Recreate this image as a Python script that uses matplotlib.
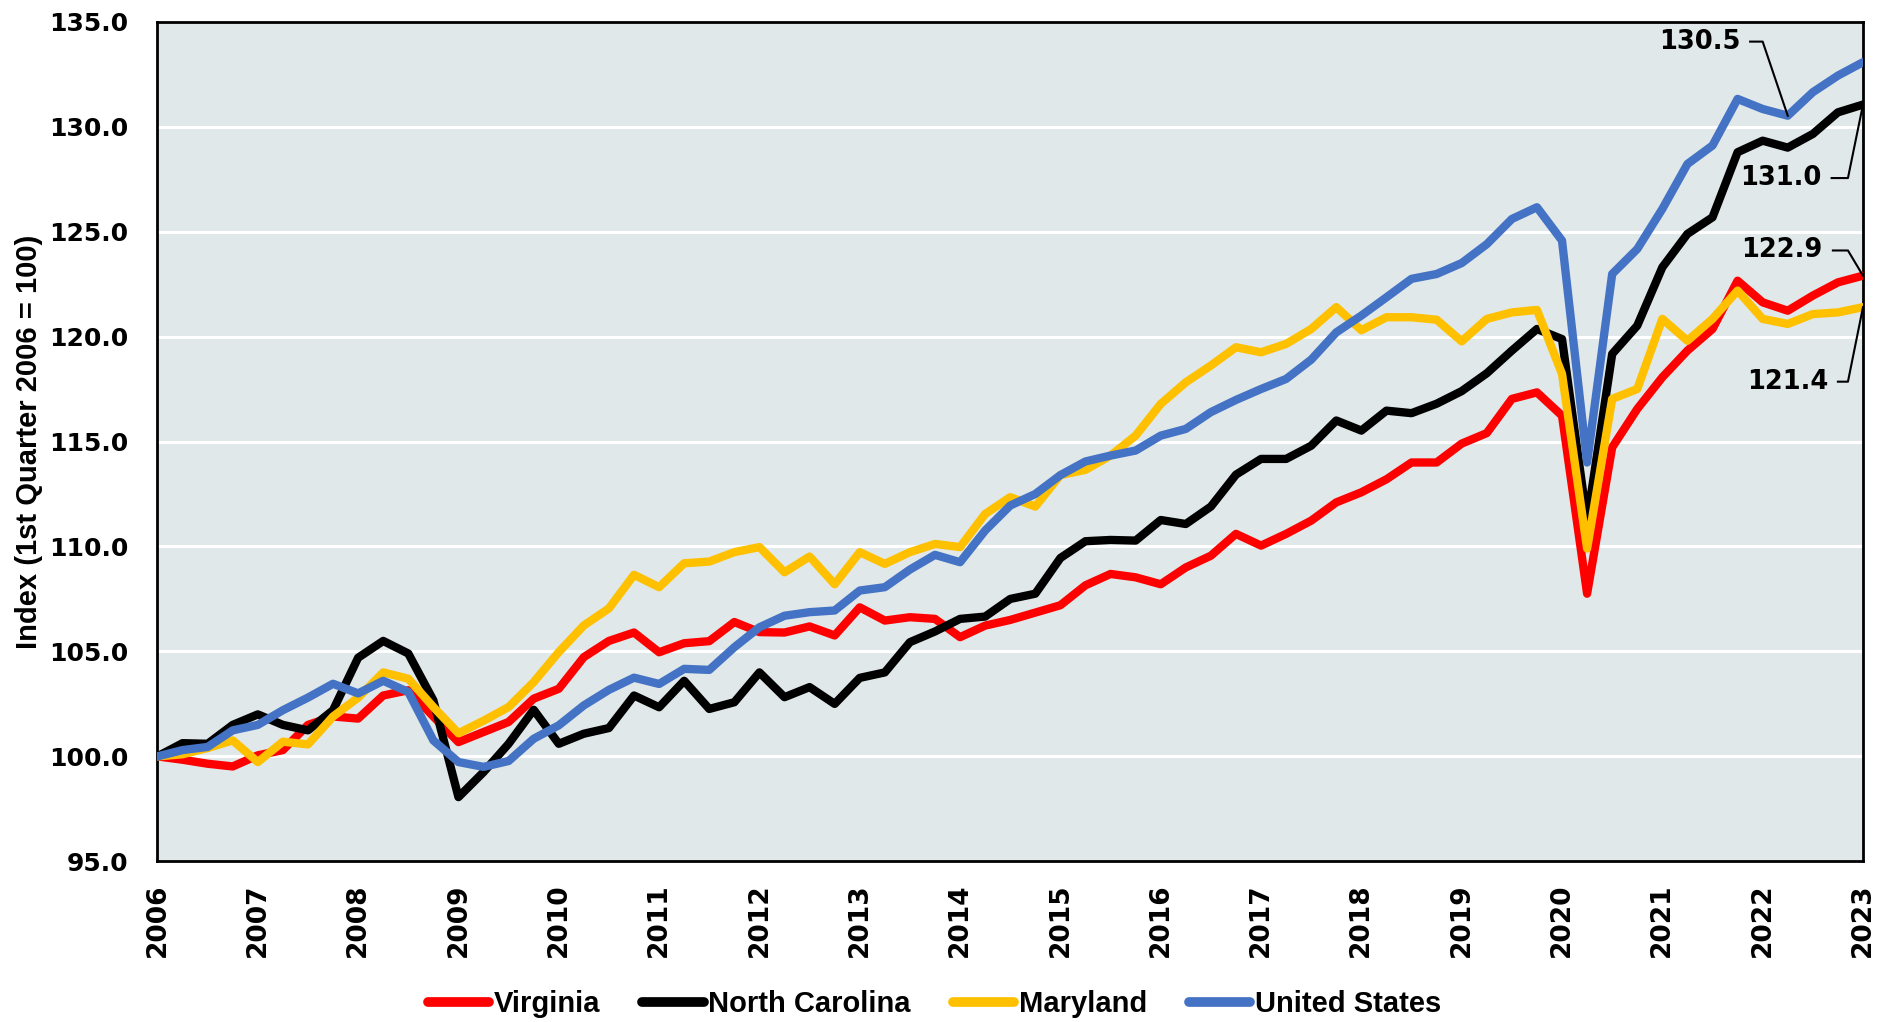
import numpy as np
import matplotlib
matplotlib.use("Agg")
import matplotlib.pyplot as plt

# quarterly index, 2006 Q1 .. 2023 Q1
years = list(range(2006, 2024))
virginia = [100.0, 99.84, 99.65, 99.52, 100.05, 100.3, 101.5, 101.9, 101.8, 102.9,
            103.15, 101.9, 100.68, 101.16, 101.64, 102.75, 103.22, 104.73, 105.5, 105.9,
            104.96, 105.39, 105.49, 106.4, 105.92, 105.9, 106.19, 105.76, 107.1, 106.47,
            106.63, 106.55, 105.68, 106.23, 106.5, 106.85, 107.2, 108.15, 108.69, 108.53,
            108.2, 109.0, 109.56, 110.6, 110.04, 110.6, 111.23, 112.1, 112.58, 113.2,
            114.0, 114.0, 114.9, 115.4, 117.03, 117.34, 116.23, 107.75, 114.72, 116.55,
            118.06, 119.33, 120.36, 122.66, 121.63, 121.23, 121.95, 122.58, 122.9]
north_carolina = [100.0, 100.63, 100.6, 101.5, 102.0, 101.5, 101.24, 102.2, 104.7, 105.5,
                  104.9, 102.67, 98.06, 99.25, 100.6, 102.22, 100.6, 101.08, 101.35, 102.9,
                  102.34, 103.6, 102.26, 102.58, 104.0, 102.82, 103.3, 102.5, 103.74, 104.0,
                  105.44, 105.95, 106.55, 106.66, 107.5, 107.75, 109.45, 110.25, 110.31, 110.28,
                  111.26, 111.07, 111.9, 113.42, 114.17, 114.17, 114.8, 116.0, 115.52, 116.47,
                  116.35, 116.8, 117.4, 118.25, 119.33, 120.36, 119.88, 111.2, 119.17, 120.52,
                  123.3, 124.89, 125.68, 128.78, 129.33, 129.0, 129.65, 130.68, 131.05]
maryland = [100.0, 100.1, 100.4, 100.76, 99.73, 100.7, 100.57, 101.9, 102.8, 104.0,
            103.7, 102.35, 101.1, 101.7, 102.35, 103.54, 104.97, 106.24, 107.05, 108.65,
            108.06, 109.2, 109.28, 109.73, 109.97, 108.77, 109.52, 108.2, 109.73, 109.17,
            109.73, 110.12, 109.97, 111.55, 112.35, 111.9, 113.4, 113.65, 114.33, 115.28,
            116.79, 117.82, 118.62, 119.49, 119.25, 119.65, 120.36, 121.4, 120.3, 120.92,
            120.92, 120.8, 119.77, 120.84, 121.15, 121.27, 118.22, 109.9, 117.03, 117.5,
            120.84, 119.8, 120.84, 122.19, 120.84, 120.6, 121.07, 121.15, 121.4]
united_states = [100.0, 100.3, 100.45, 101.24, 101.5, 102.2, 102.8, 103.46, 103.0, 103.6,
                 103.07, 100.76, 99.73, 99.5, 99.78, 100.84, 101.48, 102.43, 103.17, 103.75,
                 103.45, 104.17, 104.12, 105.2, 106.15, 106.7, 106.87, 106.95, 107.9, 108.06,
                 108.9, 109.6, 109.25, 110.76, 111.95, 112.5, 113.4, 114.05, 114.33, 114.57,
                 115.28, 115.6, 116.4, 116.98, 117.5, 117.98, 118.9, 120.2, 121.0, 121.87,
                 122.75, 122.98, 123.5, 124.4, 125.6, 126.16, 124.57, 114.0, 122.98, 124.17,
                 126.08, 128.22, 129.1, 131.32, 130.84, 130.52, 131.64, 132.43, 133.07]

names = ["Virginia", "North Carolina", "Maryland", "United States"]
colors = ["#FF0000", "#000000", "#FFC000", "#4472C4"]
series = [virginia, north_carolina, maryland, united_states]

x = years[0] + np.arange(len(virginia)) / 4.0

fig = plt.figure(figsize=(18.86, 10.22), dpi=100)
ax = fig.add_axes([0.0835, 0.1572, 0.9043, 0.8216])
ax.set_facecolor("#E0E8E9")

for y in range(100, 135, 5):
    ax.axhline(y, color="white", lw=2.2, zorder=1)

lines = []
for name, col, vals in zip(names, colors, series):
    ln, = ax.plot(x, vals, color=col, lw=6, label=name, zorder=3,
                  solid_joinstyle="round", solid_capstyle="round")
    lines.append(ln)

ax.set_xlim(2006, 2023)
ax.set_ylim(95, 135)
ax.set_yticks(range(95, 136, 5))
ax.set_yticklabels(["%.1f" % v for v in range(95, 136, 5)])
ax.set_xticks(years)
ax.set_xticklabels([str(yr) for yr in years], rotation=90)
ax.tick_params(axis="y", length=0, pad=21, labelsize=18)
ax.tick_params(axis="x", length=0, pad=16, labelsize=19)
for lab in ax.get_xticklabels() + ax.get_yticklabels():
    lab.set_fontweight("bold")
    lab.set_family("DejaVu Sans")
for sp in ax.spines.values():
    sp.set_linewidth(2)
    sp.set_color("black")

ax.set_ylabel("Index (1st Quarter 2006 = 100)", fontsize=21, fontweight="bold",
              family=["Liberation Sans", "DejaVu Sans"], labelpad=14)
ax.yaxis.set_label_coords(-0.067, 0.5)

# end-value callouts: text position, elbow x, target point
callouts = [
    ("130.5", 63.1, 134.05, 64.0, 65, united_states),
    ("131.0", 66.35, 127.55, 67.4, 68, north_carolina),
    ("122.9", 66.4, 124.1, 67.4, 68, virginia),
    ("121.4", 66.6, 117.85, 67.4, 68, maryland),
]
for txt, tx, ty, ex, idx, vals in callouts:
    ax.text(years[0] + tx / 4, ty, txt, ha="right", va="center", fontsize=18.5,
            fontweight="bold", family="DejaVu Sans", zorder=5)
    ax.plot([years[0] + (tx + 0.4) / 4, years[0] + ex / 4, x[idx]],
            [ty, ty, vals[idx]], color="black", lw=1.5, zorder=5)

leg = fig.legend(handles=lines, loc="center", bbox_to_anchor=(0.4955, 1 - 1004 / 1022),
                 ncol=4, frameon=False, handlelength=2.1, handletextpad=0.15,
                 columnspacing=1.45, prop={"family": "Liberation Sans", "weight": "bold", "size": 21})
for h in leg.get_lines():
    h.set_linewidth(7)
    h.set_solid_capstyle("round")

fig.savefig("out.png", dpi=100)
